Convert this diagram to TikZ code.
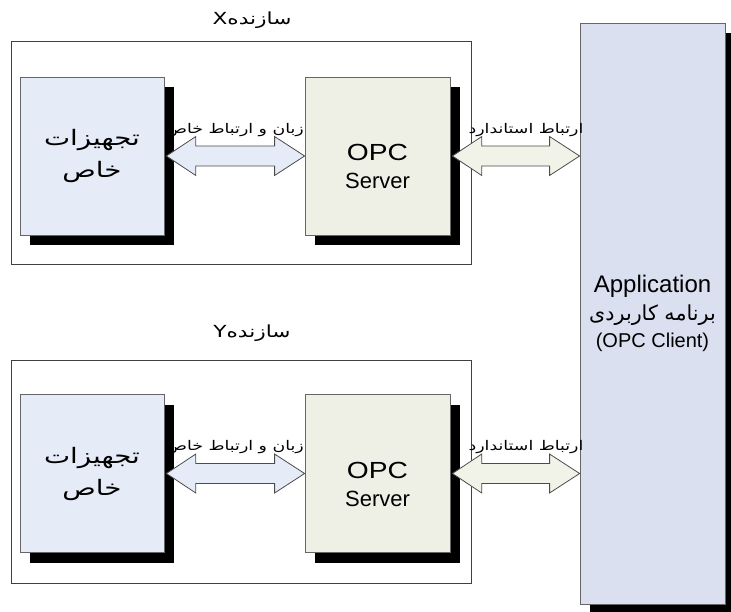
\documentclass[tikz,border=0pt]{standalone}
\usepackage{fontspec}
\usepackage{graphicx}
\setmainfont{Liberation Sans}
\newfontfamily\arabicfont[Script=Arabic,FakeStretch=1.3]{DejaVu Sans}
\newfontfamily\arabicplain[Script=Arabic]{DejaVu Sans}
\TeXXeTstate=1
\usetikzlibrary{calc,shadows}
\definecolor{eqfill}{HTML}{E6ECF7}
\definecolor{opcfill}{HTML}{EFF0E5}
\definecolor{appfill}{HTML}{DAE0F0}
\definecolor{arrblue}{HTML}{E6ECF7}
\definecolor{arrbeige}{HTML}{F1F3E8}
\tikzset{
  frame/.style={draw=black!75, line width=0.75pt, minimum width=345pt, minimum height=167.25pt, inner sep=0pt},
  box/.style={draw=black!60, line width=0.6pt, inner sep=0pt, align=center,
    drop shadow={shadow xshift=7.5pt, shadow yshift=-7.5pt, fill=black, opacity=1}},
  eqbox/.style={box, fill=eqfill, minimum width=108pt, minimum height=118.5pt,
    font=\arabicfont\fontsize{16}{24}\selectfont},
  opcbox/.style={box, fill=opcfill, minimum width=108.75pt, minimum height=118.5pt,
    font=\fontsize{16.5}{21}\selectfont},
  appbox/.style={box, fill=appfill, minimum width=108.75pt, minimum height=435.75pt,
    font=\fontsize{15}{20.5}\selectfont},
  titletext/.style={inner sep=0pt, font=\arabicfont\fontsize{12.5}{15}\selectfont},
  labtext/.style={inner sep=0pt, font=\arabicfont\fontsize{10}{12}\selectfont},
  arrowline/.style={draw=black!70, line width=0.6pt, line join=miter}
}
\newcommand\opctext{\raisebox{-10pt}[\height][\depth]{\begin{tabular}{@{}c@{}}\scalebox{1.28}[1.06]{OPC}\\Server\end{tabular}}}
\newcommand\blockarrow[3]{%
  \draw[arrowline, fill=#3] let \p1=(#1.east), \p2=(#2.west) in
   (\x1+1.5pt,\y1) -- (\x1+23.5pt,\y1+14.6pt) -- (\x1+23.5pt,\y1+7.5pt)
   -- (\x2-22.5pt,\y1+7.5pt) -- (\x2-22.5pt,\y1+14.6pt) -- (\x2,\y1)
   -- (\x2-22.5pt,\y1-14.6pt) -- (\x2-22.5pt,\y1-7.5pt)
   -- (\x1+23.5pt,\y1-7.5pt) -- (\x1+23.5pt,\y1-14.6pt) -- cycle;}
\begin{document}
\begin{tikzpicture}[x=0.75pt,y=-0.75pt]
\clip (0,0) rectangle (731,611);
\fill[white] (0,0) rectangle (731,611);
% group X
\node[frame] (frameX) at (241,152.5) {};
\node[titletext] (titleX) at (252,20) {\beginR سازندهX\endR};
\node[eqbox] (eqX) at (92,156) {\beginR تجهیزات\endR\\\beginR خاص\endR};
\node[opcbox] (opcX) at (377.5,156) {\opctext};
% group Y
\node[frame] (frameY) at (241,471.5) {};
\node[titletext] (titleY) at (252,333) {\beginR سازندهY\endR};
\node[eqbox] (eqY) at (92,473.5) {\beginR تجهیزات\endR\\\beginR خاص\endR};
\node[opcbox] (opcY) at (377.5,473.5) {\opctext};
% application
\node[appbox] (app) at (652.5,313.5) {\fontsize{18}{20.5}\selectfont Application\\{\arabicplain\fontsize{15.5}{20.5}\selectfont\beginR برنامه کاربردی\endR}\\(OPC Client)};
% arrows
\blockarrow{eqX}{opcX}{arrblue}
\blockarrow{opcX}{app}{arrbeige}
\blockarrow{eqY}{opcY}{arrblue}
\blockarrow{opcY}{app}{arrbeige}
% arrow labels
\node[labtext] (labX1) at (235,130) {\beginR زبان و ارتباط خاص\endR};
\node[labtext] (labX2) at (526,130) {\beginR ارتباط استاندارد\endR};
\node[labtext] (labY1) at (235,447) {\beginR زبان و ارتباط خاص\endR};
\node[labtext] (labY2) at (526,447) {\beginR ارتباط استاندارد\endR};
\end{tikzpicture}
\end{document}
